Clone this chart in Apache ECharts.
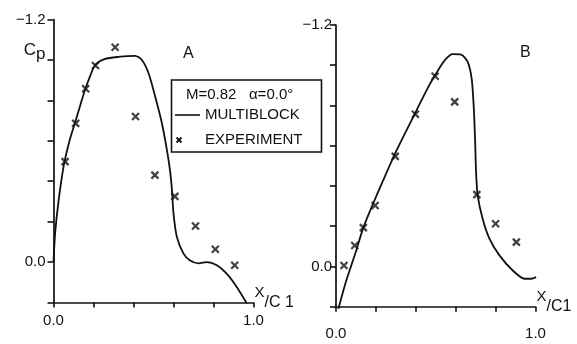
<!DOCTYPE html>
<html>
<head>
<meta charset="utf-8">
<script src="https://cdn.jsdelivr.net/npm/echarts@6/dist/echarts.min.js"></script>
<style>html,body{margin:0;padding:0;background:#fff;}#c{width:577px;height:344px;}</style>
</head>
<body>
<div id="c"></div>
<script>
// ---- data (x/c, Cp) ----
const panelTitles = ['A', 'B'];
const multiblockA = [[0,0.0],[0.008,-0.14],[0.025,-0.30],[0.05,-0.47],[0.08,-0.60],[0.108,-0.69],[0.135,-0.78],[0.159,-0.856],[0.185,-0.925],[0.208,-0.975],[0.258,-1.005],[0.325,-1.015],[0.408,-1.02],[0.442,-1.0],[0.475,-0.935],[0.508,-0.82],[0.542,-0.687],[0.567,-0.555],[0.583,-0.45],[0.592,-0.36],[0.6,-0.24],[0.617,-0.124],[0.65,-0.042],[0.683,-0.008],[0.725,0.006],[0.767,0.0],[0.817,0.016],[0.867,0.058],[0.917,0.124],[0.967,0.205]];
const experimentA = [[0.058,-0.497],[0.111,-0.686],[0.161,-0.857],[0.21,-0.972],[0.308,-1.063],[0.41,-0.72],[0.507,-0.43],[0.607,-0.325],[0.71,-0.178],[0.809,-0.063],[0.906,0.016]];
const multiblockB = [[0.012,0.21],[0.049,0.078],[0.099,-0.072],[0.137,-0.193],[0.182,-0.303],[0.233,-0.42],[0.3,-0.569],[0.383,-0.735],[0.467,-0.9],[0.518,-0.985],[0.55,-1.03],[0.584,-1.055],[0.627,-1.053],[0.66,-1.017],[0.68,-0.934],[0.69,-0.801],[0.697,-0.635],[0.702,-0.47],[0.71,-0.353],[0.735,-0.237],[0.769,-0.138],[0.819,-0.055],[0.886,0.02],[0.945,0.061],[0.978,0.061],[1.003,0.053]];
const experimentB = [[0.04,-0.005],[0.094,-0.104],[0.137,-0.193],[0.196,-0.303],[0.297,-0.547],[0.398,-0.756],[0.497,-0.945],[0.595,-0.818],[0.706,-0.357],[0.8,-0.212],[0.904,-0.121]];
const yTickLabels = {'-1.2': '\u22121.2', '0': '0.0'};
const xTickLabels = {'0': '0.0', '1': '1.0'};
const legendHeader = 'M=0.82   \u03b1=0.0\u00b0';
const legendNames = ['MULTIBLOCK', 'EXPERIMENT'];

const INK = '#111';
const FONT = 'Liberation Sans';
const XMARK = 'path://M0,0L10,10M10,0L0,10';

function near(a, b) { return Math.abs(a - b) < 1e-6; }
function yFmt(showCp) {
  return function (v) {
    if (near(v, -1.2)) return yTickLabels['-1.2'];
    if (near(v, 0)) return yTickLabels['0'];
    if (showCp && near(v, -1.0)) return '{c|C}{p|p}';
    return '';
  };
}
function xFmt(v) {
  if (near(v, 0)) return xTickLabels['0'];
  if (near(v, 1)) return xTickLabels['1'];
  return '';
}
function xAxisCfg(idx, margin, name) {
  return {
    type: 'value', gridIndex: idx, min: 0, max: 1, interval: 0.2,
    axisLine: { onZero: false, lineStyle: { color: INK, width: 1.7 } },
    axisTick: { show: true, length: 5, lineStyle: { color: INK, width: 1.6 } },
    axisLabel: { formatter: xFmt, margin: margin, color: INK, fontFamily: FONT, fontSize: 15, showMinLabel: true, showMaxLabel: true },
    splitLine: { show: false },
    name: name, nameLocation: 'end', nameGap: 1,
    nameTextStyle: { color: INK, fontFamily: FONT, fontSize: 15, align: 'left', verticalAlign: 'middle', padding: [0, 0, 10, 0],
      rich: { x: { fontSize: 15, fontFamily: FONT, color: INK, padding: [0, 0, 10, 0] },
              s: { fontSize: 16, fontFamily: FONT, color: INK, padding: [10, 0, 0, 0] } } }
  };
}
function yAxisCfg(idx, margin, showCp) {
  return {
    type: 'value', gridIndex: idx, min: -1.2, max: 0.2, interval: 0.2, inverse: true,
    axisLine: { onZero: false, lineStyle: { color: INK, width: 1.7 } },
    axisTick: { show: true, length: 6, lineStyle: { color: INK, width: 1.6 } },
    axisLabel: { formatter: yFmt(showCp), margin: margin, color: INK, fontFamily: FONT, fontSize: 15, showMinLabel: true, showMaxLabel: true,
      rich: { c: { fontSize: 17, fontFamily: FONT, color: INK, padding: [0, 0, 20, 0] },
              p: { fontSize: 17, fontFamily: FONT, color: INK, padding: [0, 0, 11, 0] } } },
    splitLine: { show: false }
  };
}

const chart = echarts.init(document.getElementById('c'), null, { renderer: 'canvas' });
chart.setOption({
  animation: false,
  backgroundColor: '#fff',
  title: [
    { text: panelTitles[0], left: 183, top: 46, padding: 0, textStyle: { color: INK, fontFamily: FONT, fontSize: 16, fontWeight: 'normal' } },
    { text: panelTitles[1], left: 520, top: 45, padding: 0, textStyle: { color: INK, fontFamily: FONT, fontSize: 16, fontWeight: 'normal' } }
  ],
  grid: [
    { left: 53.5, top: 19.5, width: 200, height: 283 },
    { left: 336, top: 25, width: 199.5, height: 281.7 }
  ],
  xAxis: [xAxisCfg(0, 11, '{x|X}{s|/C 1}'), xAxisCfg(1, 20, '{x|X}{s|/C1}')],
  yAxis: [yAxisCfg(0, 8, true), yAxisCfg(1, 4, false)],
  series: [
    { name: legendNames[0], type: 'line', xAxisIndex: 0, yAxisIndex: 0, data: multiblockA, smooth: 0.25, symbol: 'none', clip: false, lineStyle: { color: INK, width: 1.8 } },
    { name: legendNames[1], type: 'scatter', xAxisIndex: 0, yAxisIndex: 0, data: experimentA, symbol: XMARK, symbolSize: 7, itemStyle: { color: 'none', borderColor: INK, borderWidth: 2.2 } },
    { name: legendNames[0], type: 'line', xAxisIndex: 1, yAxisIndex: 1, data: multiblockB, smooth: 0.25, symbol: 'none', clip: false, lineStyle: { color: INK, width: 1.8 } },
    { name: legendNames[1], type: 'scatter', xAxisIndex: 1, yAxisIndex: 1, data: experimentB, symbol: XMARK, symbolSize: 7, itemStyle: { color: 'none', borderColor: INK, borderWidth: 2.2 } }
  ],
  graphic: [
    { type: 'rect', shape: { x: 171.5, y: 80, width: 150, height: 72 }, style: { fill: 'none', stroke: INK, lineWidth: 1.6 } },
    { type: 'text', x: 186, y: 95, style: { text: legendHeader, fill: INK, font: '15px "Liberation Sans"', verticalAlign: 'middle' } },
    { type: 'line', shape: { x1: 175, y1: 115, x2: 200, y2: 115 }, style: { stroke: INK, lineWidth: 1.6 } },
    { type: 'text', x: 205, y: 115, style: { text: legendNames[0], fill: INK, font: '15px "Liberation Sans"', verticalAlign: 'middle' } },
    { type: 'polyline', shape: { points: [[176.5, 137.5], [181.5, 142.5]] }, style: { stroke: INK, lineWidth: 1.8 } },
    { type: 'polyline', shape: { points: [[181.5, 137.5], [176.5, 142.5]] }, style: { stroke: INK, lineWidth: 1.8 } },
    { type: 'text', x: 205, y: 140, style: { text: legendNames[1], fill: INK, font: '15px "Liberation Sans"', verticalAlign: 'middle' } }
  ]
});
</script>
</body>
</html>
